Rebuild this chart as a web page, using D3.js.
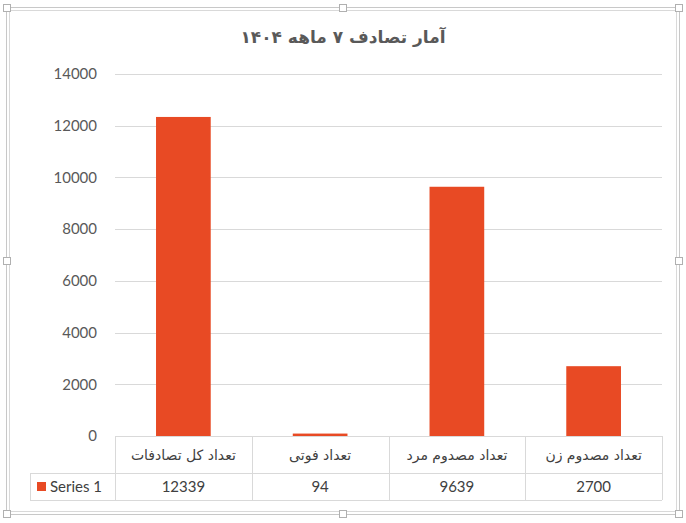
<!DOCTYPE html>
<html><head><meta charset="utf-8">
<script src="https://cdn.jsdelivr.net/npm/d3@7"></script>
<style>body{margin:0;background:#fff;}svg{display:block;}</style>
</head><body>
<svg id="c" width="686" height="523"></svg>
<script>
const title = "آمار تصادف ۷ ماهه ۱۴۰۴";
const categories = ["تعداد کل تصادفات", "تعداد فوتی", "تعداد مصدوم مرد", "تعداد مصدوم زن"];
const values = [12339, 94, 9639, 2700];
const seriesName = "Series 1";
const yTicks = [0, 2000, 4000, 6000, 8000, 10000, 12000, 14000];

const svg = d3.select("#c");
const W = 686, H = 523;
const L = 115, R = 662, T = 74, B = 436;
const row1 = 473, row2 = 500, legL = 30;
const barColor = "#E84A24";
const textCol = "#595959";
const lineCol = "#d9d9d9";

// frame
const fr = svg.append("g");
fr.append("rect").attr("x",6.5).attr("y",7.5).attr("width",673).attr("height",507).attr("fill","none").attr("stroke","#c8c8c8");
fr.append("rect").attr("x",9.5).attr("y",10.5).attr("width",667).attr("height",501).attr("fill","none").attr("stroke","#d9d9d9");
const hs = [[7,8],[343,8],[679,8],[7,261],[679,261],[7,514],[343,514],[679,514]];
fr.selectAll("rect.h").data(hs).join("rect").attr("class","h")
  .attr("x",d=>d[0]-3.5).attr("y",d=>d[1]-3.5).attr("width",7).attr("height",7)
  .attr("fill","#fff").attr("stroke","#b0b0b0");

// title
svg.append("text").attr("x",343).attr("y",43).attr("text-anchor","middle")
  .attr("font-family","DejaVu Sans").attr("font-weight","bold").attr("font-size",17)
  .attr("fill",textCol).attr("direction","rtl").text(title);

const y = d3.scaleLinear().domain([0,14000]).range([B,T]);
const x = d3.scaleBand().domain(categories).range([L,R]).paddingInner(0.6).paddingOuter(0.3);
const xc = d3.scaleBand().domain(categories).range([L,R]);

// gridlines
svg.append("g").selectAll("line").data(yTicks.filter(d=>d>0)).join("line")
  .attr("x1",L).attr("x2",R).attr("y1",d=>Math.round(y(d))+0.5).attr("y2",d=>Math.round(y(d))+0.5)
  .attr("stroke",lineCol);

// y axis labels
const ya = svg.append("g").attr("transform",`translate(${L},0)`)
  .call(d3.axisLeft(y).tickValues(yTicks).tickSize(0).tickPadding(18).tickFormat(d3.format("d")));
ya.select(".domain").remove();
ya.selectAll("text").attr("font-family","Lato").attr("font-size",15).attr("fill",textCol);

// bars
svg.append("g").selectAll("rect").data(values).join("rect")
  .attr("x",(d,i)=>x(categories[i])).attr("width",x.bandwidth())
  .attr("y",d=>y(d)).attr("height",d=>B-y(d)).attr("fill",barColor);

// data table
const tg = svg.append("g").attr("stroke",lineCol).attr("fill","none");
tg.append("line").attr("x1",L).attr("x2",R).attr("y1",B+0.5).attr("y2",B+0.5);
tg.append("line").attr("x1",legL).attr("x2",R).attr("y1",row1+0.5).attr("y2",row1+0.5);
tg.append("line").attr("x1",legL).attr("x2",R).attr("y1",row2+0.5).attr("y2",row2+0.5);
tg.append("line").attr("x1",legL+0.5).attr("x2",legL+0.5).attr("y1",row1).attr("y2",row2);
const edges = categories.map(c=>xc(c)).concat([R]);
tg.selectAll("line.v").data(edges).join("line").attr("class","v")
  .attr("x1",d=>Math.round(d)+0.5).attr("x2",d=>Math.round(d)+0.5).attr("y1",B).attr("y2",row2);

svg.append("g").selectAll("text").data(categories).join("text")
  .attr("x",d=>xc(d)+xc.bandwidth()/2).attr("y",(B+row1)/2+5).attr("text-anchor","middle")
  .attr("font-family","DejaVu Sans").attr("font-size",14).attr("fill","#404040").attr("direction","rtl")
  .text(d=>d);
svg.append("g").selectAll("text").data(values).join("text")
  .attr("x",(d,i)=>xc(categories[i])+xc.bandwidth()/2).attr("y",(row1+row2)/2+5.5).attr("text-anchor","middle")
  .attr("font-family","Lato").attr("font-size",15).attr("fill","#404040")
  .text(d=>d);

// legend key
svg.append("rect").attr("x",37).attr("y",482).attr("width",9).attr("height",9).attr("fill",barColor);
svg.append("text").attr("x",50).attr("y",492).attr("font-family","Lato").attr("font-size",15)
  .attr("fill","#404040").text(seriesName);
</script>
</body></html>
